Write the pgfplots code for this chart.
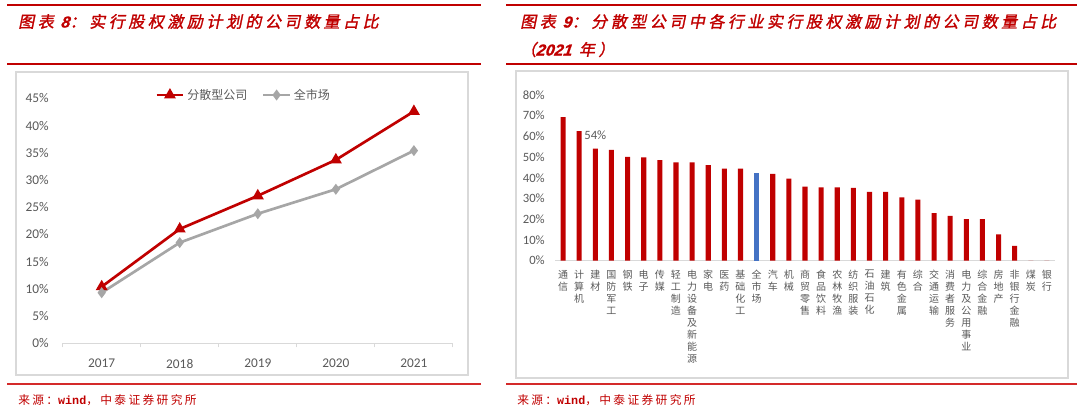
\documentclass[border=0pt]{standalone}
\usepackage{pgfplots}
\pgfplotsset{compat=1.18}
\usepackage{fontspec}
\setmainfont{Carlito}
\setmonofont{Liberation Mono}
\newfontfamily\cjk{Noto Sans CJK SC}
\newfontfamily\titlecjk{Noto Sans CJK SC}[FakeSlant=0.2,FakeBold=1.5,LetterSpace=22]
\newfontfamily\titlelat{Liberation Sans}[FakeSlant=0.15,FakeBold=1]
\newfontfamily\srccjk{Noto Sans CJK SC}[LetterSpace=20]
\definecolor{tred}{HTML}{C00000}
\definecolor{srcred}{HTML}{D42A2A}
\definecolor{barred}{HTML}{C00000}
\definecolor{barblue}{HTML}{4472C4}
\definecolor{lgray}{HTML}{A6A6A6}
\definecolor{axgray}{HTML}{D9D9D9}
\definecolor{txt}{HTML}{595959}
\begin{document}
\begin{tikzpicture}
\path[use as bounding box] (0pt,0pt) rectangle (810pt,-309.75pt);
\begin{scope}[x=0.75pt,y=-0.75pt]
% title rules
\draw[tred,line width=2pt] (7,5)--(481,5);
\draw[tred,line width=1.5pt] (7,64)--(481,64);
\draw[tred,line width=2pt] (506,5)--(1077,5);
\draw[tred,line width=1.5pt] (506,64)--(1077,64);
\draw[srcred,line width=1pt] (7,384)--(481,384);
\draw[srcred,line width=1pt] (506,384)--(1077,384);
% boxes
\draw[axgray,line width=1.2pt] (16,72) rectangle (468,375);
\draw[axgray,line width=1.2pt] (516,71) rectangle (1068,378);
% titles
\node[anchor=west,inner sep=0pt,text=tred,font=\titlecjk\fontsize{12}{14}\selectfont] at (18,21.5)
  {图表 {\titlelat\bfseries\itshape 8}：实行股权激励计划的公司数量占比};
\node[anchor=west,inner sep=0pt,text=tred,font=\titlecjk\fontsize{12}{14}\selectfont] at (520,21.5)
  {图表 {\titlelat\bfseries\itshape 9}：分散型公司中各行业实行股权激励计划的公司数量占比};
\node[anchor=west,inner sep=0pt,text=tred,font=\titlecjk\fontsize{12}{14}\selectfont] at (520,49.5)
  {（{\titlelat\bfseries\itshape 2021} 年）};
% sources
\node[anchor=west,inner sep=0pt,text=tred,font=\srccjk\fontsize{8.8}{10}\selectfont] at (18,400)
  {来源：{\ttfamily\bfseries wind}，中泰证券研究所};
\node[anchor=west,inner sep=0pt,text=tred,font=\srccjk\fontsize{8.8}{10}\selectfont] at (517,400)
  {来源：{\ttfamily\bfseries wind}，中泰证券研究所};
\end{scope}

% ---------- left chart ----------
\begin{axis}[
  at={(47.0pt,-257.5pt)}, anchor=south west,
  scale only axis, width=292.7pt, height=183.75pt,
  xmin=-0.5, xmax=4.5, ymin=0, ymax=45,
  clip=false,
  axis x line=bottom, axis y line=left,
  x axis line style={draw=axgray,line width=1pt,-},
  y axis line style={draw=none},
  xtick={0,1,2,3,4},
  xticklabels={2017,2018,2019,2020,2021},
  major tick length=0pt,
  extra x ticks={-0.5,0.5,1.5,2.5,3.5,4.5},
  extra x tick labels={},
  extra x tick style={major tick length=3pt, tick align=outside, tick style={draw=axgray,line width=0.8pt}},
  ytick={0,5,...,45},
  yticklabel={\pgfmathprintnumber{\tick}\%},
  ytick style={draw=none},
  /pgf/number format/assume math mode=true,
  ticklabel style={font=\fontsize{10}{12}\selectfont, text=txt},
  yticklabel style={anchor=east, inner sep=0pt, xshift=-10.3pt},
  xticklabel style={anchor=north, inner sep=0pt, yshift=-11.5pt},
  legend style={draw=none, fill=none, at={(0.4645,1.0135)}, anchor=center,
    legend columns=2, font=\cjk\fontsize{9}{10}\selectfont, text=txt,
    /tikz/every even column/.append style={column sep=9pt}},
  legend image code/.code={\draw[mark repeat=2,mark phase=2,#1] plot coordinates {(0pt,0pt) (10pt,0pt) (20pt,0pt)};},
]
\addplot[color=tred, line width=2pt, mark=triangle*, mark size=3.2pt, mark options={solid}]
  coordinates {(0,10.4) (1,21.0) (2,27.1) (3,33.7) (4,42.6)};
\addlegendentry{分散型公司}
\addplot[color=lgray, line width=2pt, mark=diamond*, mark size=2.5pt, mark options={solid}]
  coordinates {(0,9.3) (1,18.5) (2,23.8) (3,28.3) (4,35.4)};
\addlegendentry{全市场}
\end{axis}

% ---------- right chart ----------
\begin{axis}[
  at={(416.25pt,-195.5pt)}, anchor=south west,
  scale only axis, width=375pt, height=124.3pt,
  xmin=-0.5, xmax=30.5, ymin=0, ymax=80,
  clip=false,
  axis x line=bottom, axis y line=left,
  x axis line style={draw=axgray,line width=1pt,-},
  y axis line style={draw=none},
  ybar, bar width=3.8pt,
  xtick={0,...,30},
  xticklabels={{通\\信},{计\\算\\机},{建\\材},{国\\防\\军\\工},{钢\\铁},{电\\子},{传\\媒},{轻\\工\\制\\造},{电\\力\\设\\备\\及\\新\\能\\源},{家\\电},{医\\药},{基\\础\\化\\工},{全\\市\\场},{汽\\车},{机\\械},{商\\贸\\零\\售},{食\\品\\饮\\料},{农\\林\\牧\\渔},{纺\\织\\服\\装},{石\\油\\石\\化},{建\\筑},{有\\色\\金\\属},{综\\合},{交\\通\\运\\输},{消\\费\\者\\服\\务},{电\\力\\及\\公\\用\\事\\业},{综\\合\\金\\融},{房\\地\\产},{非\\银\\行\\金\\融},{煤\\炭},{银\\行}},
  major tick length=0pt,
  tick style={draw=none},
  ytick={0,10,...,80},
  yticklabel={\pgfmathprintnumber{\tick}\%},
  /pgf/number format/assume math mode=true,
  yticklabel style={font=\fontsize{9.5}{11}\selectfont, text=txt, anchor=east, inner sep=0pt, xshift=-7.5pt},
  xticklabel style={font=\cjk\fontsize{7.5}{9}\selectfont, text=txt, anchor=north, align=center, inner sep=0pt, yshift=-7pt},
]
\addplot[draw=none, fill=barred, bar shift=0pt]
  coordinates {(0,69.3) (1,62.5) (2,54.1) (3,53.5) (4,50.1) (5,49.9) (6,48.5) (7,47.5) (8,47.5) (9,46.1) (10,44.4) (11,44.4) (13,41.9) (14,39.6) (15,35.7) (16,35.4) (17,35.4) (18,35.1) (19,33.2) (20,33.2) (21,30.6) (22,29.5) (23,23.0) (24,21.6) (25,20.1) (26,20.1) (27,12.7) (28,7.2) (29,0) (30,0)};
\addplot[draw=none, fill=barblue, bar shift=0pt]
  coordinates {(12,42.5)};
\node[font=\fontsize{9.5}{11}\selectfont, text=txt, inner sep=0pt] at (axis cs:2,60.7) {54\%};
\end{axis}
\end{tikzpicture}
\end{document}
